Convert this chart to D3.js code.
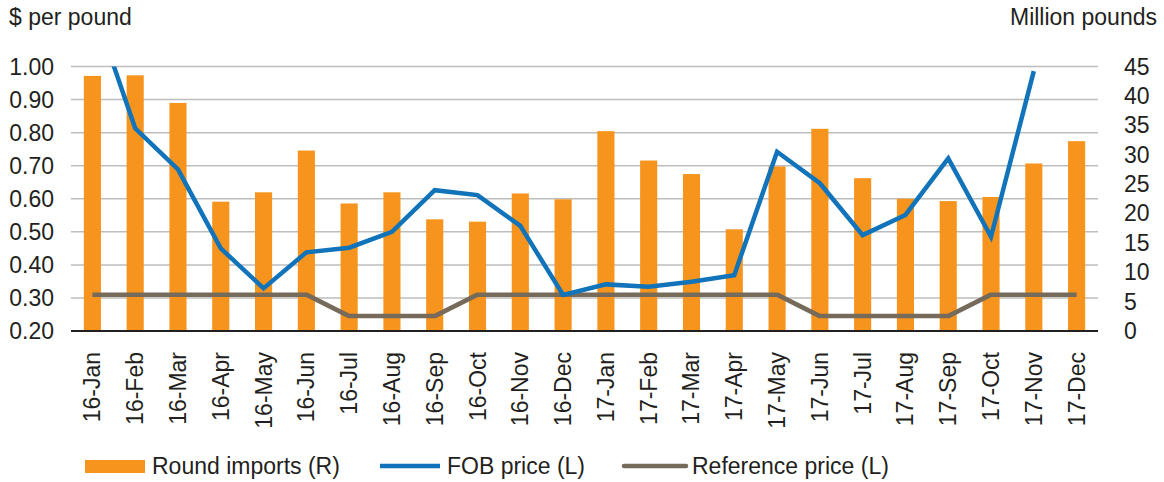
<!DOCTYPE html>
<html>
<head>
<meta charset="utf-8">
<script src="https://cdn.jsdelivr.net/npm/d3@7"></script>
<style>
  body { margin: 0; background: #fff; }
  text { font-family: "Liberation Sans", Arial, sans-serif; fill: #231f20; font-size: 23px; }
</style>
</head>
<body>
<div id="chart"></div>
<script>
// data
var months = ['16-Jan','16-Feb','16-Mar','16-Apr','16-May','16-Jun','16-Jul','16-Aug','16-Sep','16-Oct','16-Nov','16-Dec',
              '17-Jan','17-Feb','17-Mar','17-Apr','17-May','17-Jun','17-Jul','17-Aug','17-Sep','17-Oct','17-Nov','17-Dec'];
var imports = [43.4, 43.5, 38.8, 22.0, 23.6, 30.7, 21.7, 23.6, 19.0, 18.6, 23.4, 22.4,
               34.0, 29.0, 26.7, 17.3, 28.0, 34.4, 26.0, 22.5, 22.1, 22.8, 28.5, 32.3];
var fob = [1.19, 0.813, 0.689, 0.45, 0.329, 0.438, 0.452, 0.50, 0.626, 0.611, 0.518, 0.309,
           0.341, 0.334, 0.349, 0.369, 0.742, 0.647, 0.49, 0.551, 0.722, 0.485, 0.986, null];
var refPrice = [0.31, 0.31, 0.31, 0.31, 0.31, 0.31, 0.245, 0.245, 0.245, 0.31, 0.31, 0.31,
                0.31, 0.31, 0.31, 0.31, 0.31, 0.245, 0.245, 0.245, 0.245, 0.31, 0.31, 0.31];
var leftTicks = [0.2, 0.3, 0.4, 0.5, 0.6, 0.7, 0.8, 0.9, 1.0];
var rightTicks = [0, 5, 10, 15, 20, 25, 30, 35, 40, 45];

var width = 1164, height = 482;
var plotLeft = 71, plotRight = 1098, plotTop = 66.5, plotBottom = 331;

var orange = '#f7941d', blue = '#1173b9', brown = '#766a5b';

var svg = d3.select('#chart').append('svg')
  .attr('width', width)
  .attr('height', height);

var x = d3.scaleBand().domain(months).range([plotLeft, plotRight]).paddingInner(0.6).paddingOuter(0.3);
var yL = d3.scaleLinear().domain([0.2, 1.0]).range([plotBottom, plotTop]);
var yR = d3.scaleLinear().domain([0, 45]).range([plotBottom, plotTop]);

svg.append('defs').append('clipPath').attr('id', 'plot')
  .append('rect').attr('x', plotLeft).attr('y', plotTop)
  .attr('width', plotRight - plotLeft).attr('height', plotBottom - plotTop + 4);

// gridlines
svg.append('g').selectAll('line').data(leftTicks.slice(1)).enter()
  .append('line')
  .attr('x1', plotLeft).attr('x2', plotRight)
  .attr('y1', function(d) { return yL(d); })
  .attr('y2', function(d) { return yL(d); })
  .attr('stroke', '#bdbdbd').attr('stroke-width', 1.5);

// bars
svg.append('g').selectAll('rect').data(imports).enter()
  .append('rect')
  .attr('x', function(d, i) { return x(months[i]); })
  .attr('width', x.bandwidth())
  .attr('y', function(d) { return yR(d); })
  .attr('height', function(d) { return plotBottom - yR(d); })
  .attr('fill', orange);

// baseline
svg.append('line')
  .attr('x1', plotLeft).attr('x2', plotRight)
  .attr('y1', plotBottom).attr('y2', plotBottom)
  .attr('stroke', '#231f20').attr('stroke-width', 2);

var cx = function(d, i) { return x(months[i]) + x.bandwidth() / 2; };

var refLine = d3.line().x(cx).y(function(d) { return yL(d); });
svg.append('path').datum(refPrice)
  .attr('d', refLine)
  .attr('fill', 'none').attr('stroke', brown).attr('stroke-width', 4.5)
  .attr('stroke-linejoin', 'round');

var fobLine = d3.line().defined(function(d) { return d != null; }).x(cx).y(function(d) { return yL(d); });
svg.append('path').datum(fob)
  .attr('clip-path', 'url(#plot)')
  .attr('d', fobLine)
  .attr('fill', 'none').attr('stroke', blue).attr('stroke-width', 4.5);

// left axis labels
svg.append('g').selectAll('text').data(leftTicks).enter()
  .append('text')
  .attr('x', 54)
  .attr('y', function(d) { return yL(d); })
  .attr('dy', '0.35em')
  .attr('text-anchor', 'end')
  .text(function(d) { return d3.format('.2f')(d); });

// right axis labels
svg.append('g').selectAll('text').data(rightTicks).enter()
  .append('text')
  .attr('x', 1124)
  .attr('y', function(d) { return yR(d); })
  .attr('dy', '0.35em')
  .text(function(d) { return d; });

// x labels
svg.append('g').selectAll('text').data(months).enter()
  .append('text')
  .attr('transform', function(d, i) {
    return 'translate(' + (cx(d, i) + 8) + ',' + 352 + ') rotate(-90)';
  })
  .attr('text-anchor', 'end')
  .text(function(d) { return d; });

// axis titles
svg.append('text').attr('x', 9).attr('y', 25).text('$ per pound');
svg.append('text').attr('x', 1157).attr('y', 25).attr('text-anchor', 'end').text('Million pounds');

// legend
var legend = svg.append('g');
legend.append('rect').attr('x', 85).attr('y', 460).attr('width', 60).attr('height', 13).attr('fill', orange);
legend.append('text').attr('x', 152).attr('y', 474).text('Round imports (R)');
legend.append('line').attr('x1', 380).attr('x2', 440).attr('y1', 466).attr('y2', 466)
  .attr('stroke', blue).attr('stroke-width', 4.5);
legend.append('text').attr('x', 447).attr('y', 474).text('FOB price (L)');
legend.append('line').attr('x1', 624).attr('x2', 686).attr('y1', 466).attr('y2', 466)
  .attr('stroke', brown).attr('stroke-width', 4.5).attr('stroke-linecap', 'round');
legend.append('text').attr('x', 692).attr('y', 474).text('Reference price (L)');
</script>
</body>
</html>
